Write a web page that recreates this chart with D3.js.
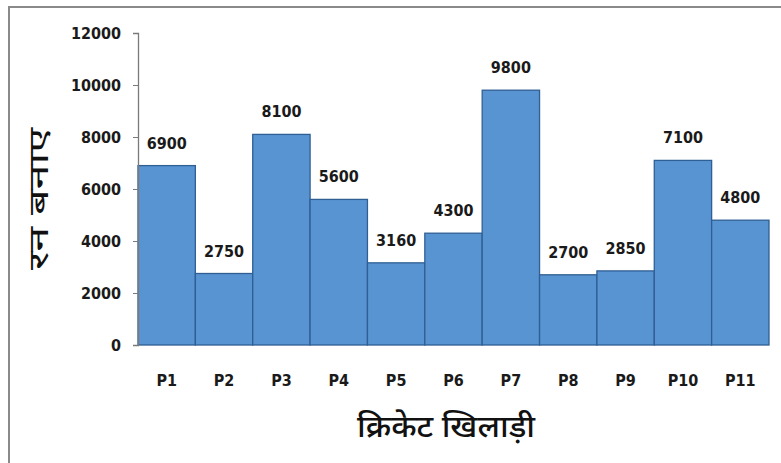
<!DOCTYPE html>
<html>
<head>
<meta charset="utf-8">
<script src="https://cdn.jsdelivr.net/npm/d3@7"></script>
<style>
  html, body { margin: 0; padding: 0; background: #fff; }
  svg { display: block; }
  .num { font-family: "DejaVu Sans Condensed", "DejaVu Sans", sans-serif; font-weight: bold; fill: #1a1a1a; }
  .hindi { font-family: "Noto Sans", "Noto Sans Devanagari", "Lohit Devanagari", sans-serif; fill: #111; }
</style>
</head>
<body>
<svg id="chart" width="781" height="463"></svg>
<script>
// Runs scored by each cricket player
const players = ["P1", "P2", "P3", "P4", "P5", "P6", "P7", "P8", "P9", "P10", "P11"];
const runs = [6900, 2750, 8100, 5600, 3160, 4300, 9800, 2700, 2850, 7100, 4800];
const yTicks = [0, 2000, 4000, 6000, 8000, 10000, 12000];
const xTitle = "क्रिकेट खिलाड़ी";
const yTitle = "रन बनाए";

const svg = d3.select("#chart");
const W = 781, H = 463;
const plot = { left: 138, right: 769, top: 33, bottom: 345 };

// Frame lines along the top and left edges
svg.append("line").attr("x1", 8).attr("x2", W).attr("y1", 7).attr("y2", 7)
  .attr("stroke", "#8a8a8a").attr("stroke-width", 2);
svg.append("line").attr("x1", 9).attr("x2", 9).attr("y1", 7).attr("y2", H)
  .attr("stroke", "#8a8a8a").attr("stroke-width", 2);

const x = d3.scaleBand().domain(players).range([plot.left, plot.right]).padding(0);
const y = d3.scaleLinear().domain([0, 12000]).range([plot.bottom, plot.top]);

// Bars
svg.append("g").selectAll("rect").data(runs).join("rect")
  .attr("x", (d, i) => x(players[i]))
  .attr("y", d => y(d))
  .attr("width", x.bandwidth())
  .attr("height", d => y(0) - y(d))
  .attr("fill", "#5893d2")
  .attr("stroke", "#2f5f93")
  .attr("stroke-width", 1.3);

// Value labels above bars
svg.append("g").selectAll("text").data(runs).join("text")
  .attr("class", "num")
  .attr("x", (d, i) => x(players[i]) + x.bandwidth() / 2)
  .attr("y", d => y(d) - 17)
  .attr("text-anchor", "middle")
  .attr("font-size", 16)
  .text(d => d);

// Y axis
const yAxis = svg.append("g").attr("transform", `translate(${plot.left},0)`)
  .call(d3.axisLeft(y).tickValues(yTicks).tickSize(5).tickPadding(12).tickFormat(d => d));
yAxis.select(".domain").attr("stroke", "#7a7a7a").attr("stroke-width", 1.3);
yAxis.selectAll(".tick line").attr("stroke", "#7a7a7a");
yAxis.selectAll(".tick text").attr("class", "num").attr("font-size", 16).attr("fill", "#1a1a1a");

// X axis category labels
const xAxis = svg.append("g").attr("transform", `translate(0,${plot.bottom})`)
  .call(d3.axisBottom(x).tickSize(0).tickPadding(30));
xAxis.select(".domain").remove();
xAxis.selectAll(".tick text").attr("class", "num").attr("font-size", 16).attr("fill", "#1a1a1a");

// Axis titles
svg.append("text").attr("class", "hindi")
  .attr("x", 446).attr("y", 437)
  .attr("text-anchor", "middle")
  .attr("font-size", 30)
  .attr("font-weight", 500)
  .attr("textLength", 178)
  .attr("lengthAdjust", "spacingAndGlyphs")
  .text(xTitle);

svg.append("text").attr("class", "hindi")
  .attr("transform", "translate(48,199) rotate(-90)")
  .attr("text-anchor", "middle")
  .attr("font-size", 27)
  .attr("font-weight", 400)
  .attr("textLength", 142)
  .attr("lengthAdjust", "spacingAndGlyphs")
  .text(yTitle);
</script>
</body>
</html>
